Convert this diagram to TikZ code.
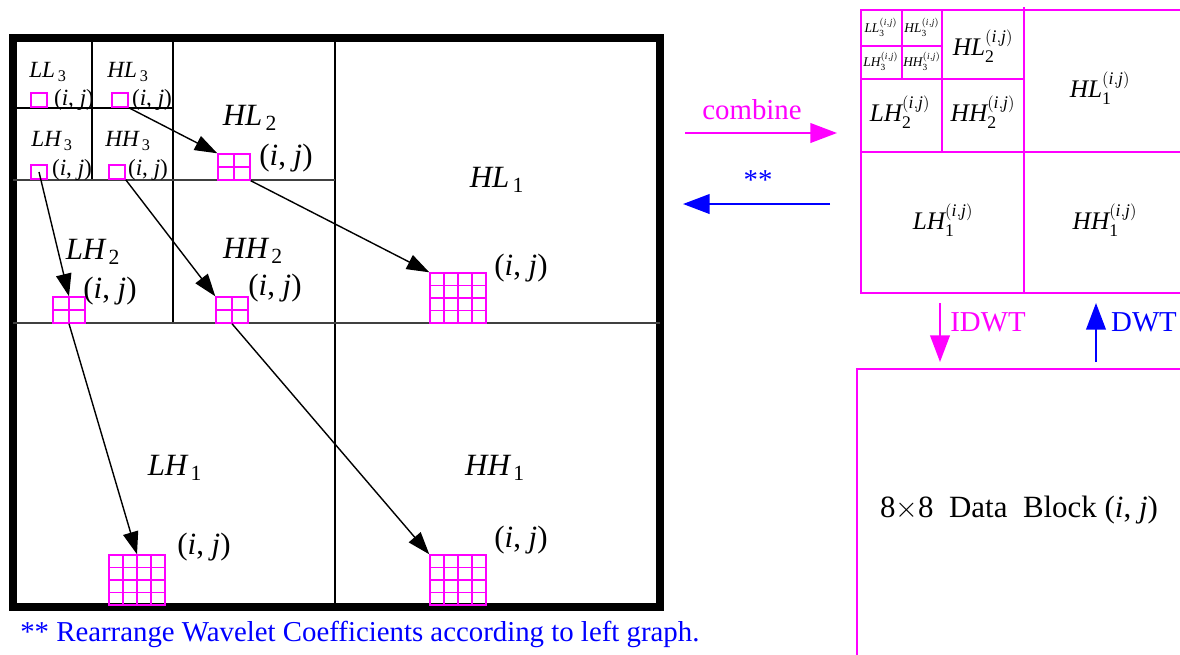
\documentclass[tikz,border=0pt]{standalone}
\usepackage{amsmath}
\usepackage{fontspec}
\setmainfont{Liberation Serif}
\usetikzlibrary{arrows.meta,calc}
\definecolor{mag}{RGB}{255,0,255}
\definecolor{blu}{RGB}{0,0,255}

\newcommand\band[2]{$\textit{#1}_{\,\text{#2}}$}
\newcommand\bandij[2]{$\textit{#1}_{\text{#2}}^{(\textit{i},\textit{j})}$}
\newcommand\posij{(\textit{i}, \textit{j})}

\begin{document}
\begin{tikzpicture}[x=0.025cm,y=-0.025cm,
 every node/.style={font=\fontsize{20.5}{24}\selectfont,inner sep=0pt},
 small/.style={font=\fontsize{16.5}{19}\selectfont},
 large/.style={font=\fontsize{22}{26}\selectfont},
 tiny/.style={font=\fontsize{9.5}{11}\selectfont},
 mid/.style={font=\fontsize{18}{21}\selectfont},
 sub/.style={line width=1pt},
 mg/.style={draw=mag,line width=1.4pt},
 coef/.style args={#1x#2}{draw=mag,line width=1pt,minimum width=#1*0.025cm,minimum height=#2*0.025cm},
 split/.style={path picture={\pgfmathtruncatemacro\nd{#1+1}
   \foreach \k in {1,...,#1}{\draw[mag,line width=1pt]
    ($(path picture bounding box.north west)!\k/\nd!(path picture bounding box.north east)$) -- ($(path picture bounding box.south west)!\k/\nd!(path picture bounding box.south east)$)
    ($(path picture bounding box.north west)!\k/\nd!(path picture bounding box.south west)$) -- ($(path picture bounding box.north east)!\k/\nd!(path picture bounding box.south east)$);}}},
 tip/.style={line width=1pt,-{Triangle[length=16pt,width=11pt]}},
 bigtip/.style={line width=1.4pt,-{Triangle[length=19pt,width=14pt]}}]
\useasboundingbox (0,0) rectangle (1180,654);

\draw[line width=5pt] (13,38) rectangle (660,607);
\draw[sub] (335,38) -- (335,607) (173,38) -- (173,323) (92,38) -- (92,180) (13,108) -- (173,108);
\draw[sub,black!75] (13,323) -- (660,323) (13,180) -- (335,180);

\node[coef=16x14] (LLthree) at (39,100) {};
\node[coef=16x14] (HLthree) at (120,100) {};
\node[coef=16x14] (LHthree) at (39,172) {};
\node[coef=16x14] (HHthree) at (117,172) {};
\node[coef=32x26,split=1] (HLtwo) at (234,167) {};
\node[coef=32x26,split=1] (LHtwo) at (69,310) {};
\node[coef=32x26,split=1] (HHtwo) at (232,310) {};
\node[coef=56x50,split=3] (HLone) at (458,298) {};
\node[coef=56x50,split=3] (LHone) at (137,580) {};
\node[coef=56x50,split=3] (HHone) at (458,580) {};

\node[small] (LLthreeL) at (48,72) {\band{LL}{3}};
\node[small] (HLthreeL) at (128,72) {\band{HL}{3}};
\node[small] (LHthreeL) at (52,141) {\band{LH}{3}};
\node[small] (HHthreeL) at (128,141) {\band{HH}{3}};
\node[large] (HLtwoL) at (250,118) {\band{HL}{2}};
\node[large] (LHtwoL) at (93,252) {\band{LH}{2}};
\node[large] (HHtwoL) at (253,251) {\band{HH}{2}};
\node[large] (HLoneL) at (497,180) {\band{HL}{1}};
\node[large] (LHoneL) at (175,468) {\band{LH}{1}};
\node[large] (HHoneL) at (495,468) {\band{HH}{1}};

\node[small] (LLthreeP) at (74,100) {\posij};
\node[small] (HLthreeP) at (152,100) {\posij};
\node[small] (LHthreeP) at (72,170) {\posij};
\node[small] (HHthreeP) at (148,170) {\posij};
\node[large] (HLtwoP) at (286,158) {\posij};
\node[large] (LHtwoP) at (110,291) {\posij};
\node[large] (HHtwoP) at (275,288) {\posij};
\node[large] (HLoneP) at (521,268) {\posij};
\node[large] (LHoneP) at (204,547) {\posij};
\node[large] (HHoneP) at (521,540) {\posij};

\draw[tip] (HLthree.south east) -- (HLtwo.north west);
\draw[tip] (HLtwo.south east) -- (HLone.north west);
\draw[tip] (LHthree.center) -- (LHtwo.north);
\draw[tip] (HHthree.south east) -- (HHtwo.north west);
\draw[tip] (LHtwo.south) -- (LHone.north);
\draw[tip] (HHtwo.south) -- (HHone.north west);

\draw[mg] (1185,10) -- (861,10) -- (861,293) -- (1185,293) (1024,7) -- (1024,293)
 (861,152) -- (1185,152) (942,10) -- (942,152) (861,79) -- (1024,79)
 (902,10) -- (902,79) (861,46) -- (942,46);
\node[tiny] (LLthreeR) at (881,27) {\bandij{LL}{3}};
\node[tiny] (HLthreeR) at (922,27) {\bandij{HL}{3}};
\node[tiny] (LHthreeR) at (881,61) {\bandij{LH}{3}};
\node[tiny] (HHthreeR) at (922,61) {\bandij{HH}{3}};
\node[mid] (HLtwoR) at (983,46) {\bandij{HL}{2}};
\node[mid] (LHtwoR) at (900,112) {\bandij{LH}{2}};
\node[mid] (HHtwoR) at (983,112) {\bandij{HH}{2}};
\node[mid] (HLoneR) at (1100,88) {\bandij{HL}{1}};
\node[mid] (LHoneR) at (943,220) {\bandij{LH}{1}};
\node[mid] (HHoneR) at (1105,220) {\bandij{HH}{1}};

\coordinate (combL) at (685,133); \coordinate (combR) at (837,133);
\coordinate (starR) at (830,204); \coordinate (starL) at (683,204);
\node[mag] (combine) at (752,110) {combine};
\node[blu] (stars) at (758,180) {**};
\draw[mg,bigtip,mag] (combL) -- (combR);
\draw[bigtip,blu] (starR) -- (starL);

\coordinate (idwtT) at (940,303); \coordinate (idwtB) at (940,362);
\coordinate (dwtB) at (1096,362); \coordinate (dwtT) at (1096,303);
\draw[mg,bigtip,mag] (idwtT) -- (idwtB);
\draw[bigtip,blu] (dwtB) -- (dwtT);
\node[mag] (idwt) at (988,322) {IDWT};
\node[blu] (dwt) at (1144,322) {DWT};

\draw[mg] (1185,369) -- (857,369) -- (857,660);
\node[large] (block) at (1019,510) {8$\times$8\ \ Data\ \ Block \posij};

\node[blu,anchor=west] (note) at (20,634) {** Rearrange Wavelet Coefficients according to left graph.};
\end{tikzpicture}
\end{document}
